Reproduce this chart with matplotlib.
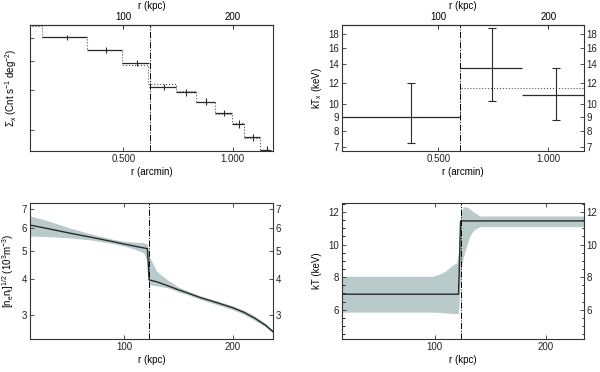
import numpy as np
import matplotlib
matplotlib.use("Agg")
import matplotlib.pyplot as plt
from matplotlib.ticker import FixedLocator, NullLocator, NullFormatter, MultipleLocator

plt.rcParams["font.family"] = ["Liberation Sans", "DejaVu Sans"]
plt.rcParams["font.size"] = 7
plt.rcParams["mathtext.fontset"] = "custom"
plt.rcParams["mathtext.rm"] = "Liberation Sans"
plt.rcParams["mathtext.it"] = "Liberation Sans"

KPC_PER_ARCMIN = 200.0
R_JUMP_ARCMIN = 0.622
R_JUMP_KPC = 123.0

# --- surface brightness profile (top left) ---
sb_edges = [0.130, 0.335, 0.495, 0.619, 0.740, 0.832, 0.919, 0.996, 1.052, 1.125, 1.175]
sb_xc = [0.241, 0.422, 0.563, 0.685, 0.785, 0.877, 0.962, 1.029, 1.092, 1.156]
sb_val = [5.05, 4.47, 3.92, 3.08, 2.92, 2.66, 2.38, 2.14, 1.87, 1.65]
sb_err = [0.14, 0.13, 0.12, 0.10, 0.09, 0.09, 0.08, 0.08, 0.07, 0.06]
model_edges = [0.0, 0.130, 0.335, 0.495, 0.612, 0.740, 0.832, 0.919, 0.996, 1.052, 1.125, 1.30]
model_val = [5.68, 5.05, 4.44, 3.82, 3.19, 2.95, 2.65, 2.36, 2.15, 1.86, 1.60]

# --- projected temperature (top right) ---
kt_edges = [0.0, 0.600, 0.879, 1.30]
kt_xc = [0.376, 0.745, 1.035]
kt_val = [9.0, 13.5, 10.85]
kt_lo = [7.25, 10.25, 8.8]
kt_hi = [12.0, 18.9, 13.5]
kt_model_edges = [0.0, 0.600, 1.30]
kt_model_val = [8.97, 11.45]

# --- deprojected density (bottom left) ---
ne_r = [13.5, 30, 50, 70, 90, 100, 110, 118, 121.5, 123, 130, 140, 150,
        160, 170, 180, 190, 200, 210, 220, 230, 237]
ne_val = [6.14, 5.97, 5.76, 5.57, 5.38, 5.28, 5.19, 5.12, 5.09, 3.97, 3.91,
          3.79, 3.67, 3.56, 3.45, 3.36, 3.27, 3.18, 3.07, 2.93, 2.77, 2.63]
ne_hi = [6.61, 6.35, 6.00, 5.72, 5.48, 5.40, 5.36, 5.34, 5.28, 4.80, 4.25,
         3.97, 3.75, 3.62, 3.50, 3.41, 3.32, 3.23, 3.12, 2.98, 2.81, 2.66]
ne_lo = [5.63, 5.60, 5.55, 5.45, 5.30, 5.20, 5.06, 4.92, 4.60, 3.82, 3.79,
         3.73, 3.61, 3.51, 3.40, 3.31, 3.22, 3.13, 3.02, 2.88, 2.73, 2.60]

# --- deprojected temperature (bottom right) ---
t_r = [10, 60, 98, 105, 110, 115, 120, 121.5, 123.3, 125.7, 128.7, 131.7,
       134.8, 136.2, 140.8, 240]
t_val = [6.95, 6.95, 6.95, 6.95, 6.95, 6.95, 6.95, 6.95, 11.45, 11.45, 11.45,
         11.45, 11.45, 11.45, 11.45, 11.45]
t_hi = [8.05, 8.05, 8.05, 8.2, 8.38, 8.68, 8.89, 9.5, 11.8, 12.33, 12.3, 12.2,
        12.0, 11.95, 11.75, 11.75]
t_lo = [5.85, 5.85, 5.85, 5.83, 5.8, 5.78, 5.75, 5.8, 8.27, 9.19, 9.91, 10.53,
        10.85, 10.94, 11.1, 11.1]

BAND = "#b8caca"
LINE = "#2a2a2a"


def a2k(a):
    return a * KPC_PER_ARCMIN


def k2a(k):
    return k / KPC_PER_ARCMIN


def style(ax):
    for s in ax.spines.values():
        s.set_linewidth(0.8)
        s.set_color("#333333")
    ax.tick_params(direction="in", length=3, width=0.6, colors="#333333",
                   labelcolor="#222222", pad=2)


def main():
    fig = plt.figure(figsize=(6.0, 3.72), dpi=100)

    # top left
    ax = fig.add_axes([0.05, 0.594, 0.405, 0.3387])
    style(ax)
    ax.set_yscale("log")
    ax.set_xlim(0.073, 1.185)
    ax.set_ylim(1.63, 5.71)
    ax.stairs(model_val, model_edges, color="#555555", lw=0.8, ls=":")
    ax.hlines(sb_val, sb_edges[:-1], sb_edges[1:], color=LINE, lw=0.9)
    ax.errorbar(sb_xc, sb_val, yerr=sb_err, fmt="none", ecolor=LINE,
                elinewidth=0.8, capsize=0)
    ax.axvline(R_JUMP_ARCMIN, color="black", lw=0.7, ls="-.")
    ax.xaxis.set_major_locator(FixedLocator([0.5, 1.0]))
    ax.set_xticklabels(["0.500", "1.000"])
    ax.xaxis.set_minor_locator(NullLocator())
    ax.yaxis.set_major_locator(FixedLocator([2, 3, 4, 5]))
    ax.yaxis.set_minor_locator(NullLocator())
    ax.yaxis.set_major_formatter(NullFormatter())
    ax.set_xlabel("r (arcmin)", labelpad=2)
    ax.set_ylabel(r"$\Sigma_x$ (Cnt s$^{-1}$ deg$^{-2}$)", labelpad=6)
    sec = ax.secondary_xaxis("top", functions=(a2k, k2a))
    sec.set_xticks([100, 200])
    sec.tick_params(direction="in", length=3, width=0.6, pad=2)
    sec.set_xlabel("r (kpc)", labelpad=2)

    # top right
    ax = fig.add_axes([0.57, 0.594, 0.4033, 0.3387])
    style(ax)
    ax.set_yscale("log")
    ax.set_xlim(0.062, 1.162)
    ax.set_ylim(6.78, 19.4)
    ax.stairs(kt_model_val, kt_model_edges, color="#555555", lw=0.8, ls=":")
    ax.hlines(kt_val, kt_edges[:-1], kt_edges[1:], color=LINE, lw=0.9)
    yerr = [np.subtract(kt_val, kt_lo), np.subtract(kt_hi, kt_val)]
    ax.errorbar(kt_xc, kt_val, yerr=yerr, fmt="none", ecolor=LINE,
                elinewidth=0.8, capsize=3, capthick=0.8)
    ax.axvline(0.600, color="black", lw=0.7, ls="-.")
    ax.xaxis.set_major_locator(FixedLocator([0.5, 1.0]))
    ax.set_xticklabels(["0.500", "1.000"])
    ax.xaxis.set_minor_locator(NullLocator())
    yt = [7, 8, 9, 10, 12, 14, 16, 18]
    ax.yaxis.set_major_locator(FixedLocator(yt))
    ax.yaxis.set_minor_locator(NullLocator())
    ax.set_yticklabels([str(v) for v in yt])
    ax.tick_params(axis="y", right=True, labelright=True)
    ax.set_xlabel("r (arcmin)", labelpad=2)
    ax.set_ylabel(r"kT$_x$ (keV)", labelpad=3)
    sec = ax.secondary_xaxis("top", functions=(a2k, k2a))
    sec.set_xticks([100, 200])
    sec.tick_params(direction="in", length=3, width=0.6, pad=2)
    sec.set_xlabel("r (kpc)", labelpad=2)

    # bottom left
    ax = fig.add_axes([0.05, 0.0887, 0.405, 0.3656])
    style(ax)
    ax.set_yscale("log")
    ax.set_xlim(13.5, 237)
    ax.set_ylim(2.48, 7.32)
    ax.fill_between(ne_r, ne_lo, ne_hi, color=BAND, lw=0)
    ax.plot(ne_r, ne_val, color=LINE, lw=1.0)
    ax.axvline(R_JUMP_KPC, color="black", lw=0.7, ls="-.")
    ax.set_xticks([100, 200])
    ax.xaxis.set_minor_locator(NullLocator())
    ax.yaxis.set_major_locator(FixedLocator([3, 4, 5, 6, 7]))
    ax.yaxis.set_minor_locator(NullLocator())
    ax.set_yticklabels(["3", "4", "5", "6", "7"])
    ax.tick_params(axis="y", right=True, labelright=True)
    ax.tick_params(axis="x", top=True)
    ax.set_xlabel("r (kpc)", labelpad=2)
    ax.set_ylabel(r"[n$_e$n$_i$]$^{1/2}$ (10$^3$m$^{-3}$)", labelpad=4)

    # bottom right
    ax = fig.add_axes([0.57, 0.0887, 0.4033, 0.3656])
    style(ax)
    ax.set_xlim(16.5, 234.5)
    ax.set_ylim(4.2, 12.55)
    ax.fill_between(t_r, t_lo, t_hi, color=BAND, lw=0)
    ax.plot(t_r, t_val, color=LINE, lw=1.0)
    ax.axvline(123.7, color="black", lw=0.7, ls="-.")
    ax.set_xticks([100, 200])
    ax.xaxis.set_minor_locator(NullLocator())
    ax.yaxis.set_major_locator(FixedLocator([6, 8, 10, 12]))
    ax.yaxis.set_minor_locator(MultipleLocator(0.5))
    ax.tick_params(axis="y", which="both", right=True, labelright=True,
                   direction="in", width=0.6)
    ax.tick_params(axis="y", which="minor", length=1.8)
    ax.tick_params(axis="x", top=True)
    ax.set_xlabel("r (kpc)", labelpad=2)
    ax.set_ylabel("kT (keV)", labelpad=5)

    plt.savefig("out.png", dpi=100)


if __name__ == "__main__":
    main()
